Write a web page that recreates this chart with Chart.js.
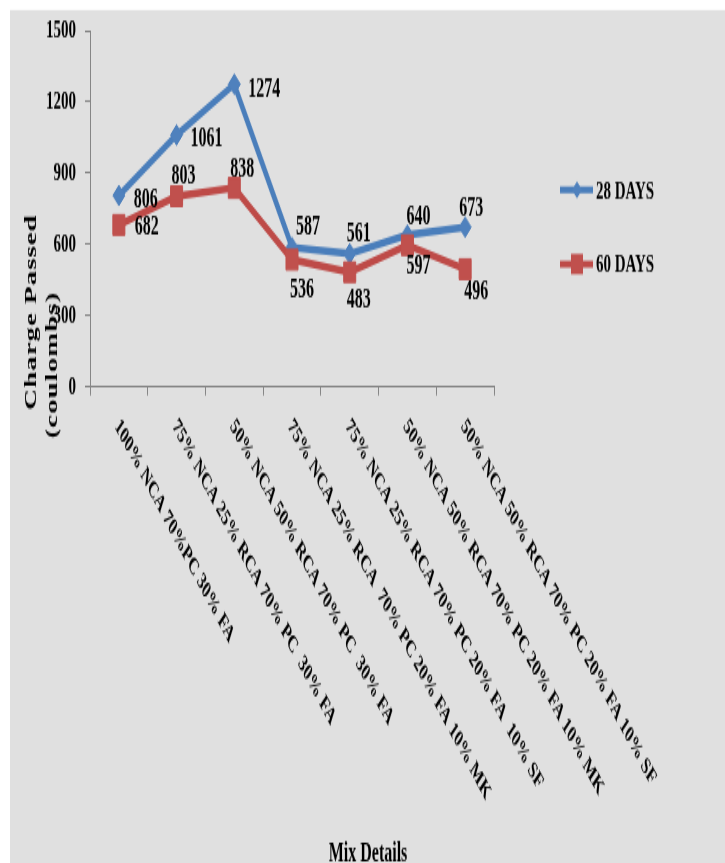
<!DOCTYPE html>
<html>
<head>
<meta charset="utf-8">
<script src="https://cdn.jsdelivr.net/npm/chart.js@4.4.1/dist/chart.umd.min.js"></script>
<style>
body{margin:0;background:#fff;}
</style>
</head>
<body>
<canvas id="chart" width="725" height="508" style="display:block;width:725px;height:863px;"></canvas>
<script>
const mixLabels = [
    '100% NCA 70%PC 30% FA',
    '75% NCA 25% RCA 70% PC  30% FA',
    '50% NCA 50% RCA 70% PC  30% FA',
    '75% NCA 25% RCA  70% PC 20% FA 10% MK',
    '75% NCA 25% RCA 70% PC 20% FA  10% SF',
    '50% NCA 50% RCA 70% PC 20% FA 10% MK',
    '50% NCA 50% RCA 70% PC 20% FA 10% SF'
];
const days28 = [806, 1061, 1274, 587, 561, 640, 673];
const days60 = [682, 803, 838, 536, 483, 597, 496];
const yTicks = [0, 300, 600, 900, 1200, 1500];
const seriesNames = ['28 DAYS', '60 DAYS'];

// the reference is stretched in height, so draw flat and let css stretch the canvas
const STRETCH = 863 / 508;
const serif = '"Liberation Serif", "Times New Roman", serif';

// where each value label sits next to its point (px in the final picture)
const labelOffsets = [
    [[27, 4], [30, 5], [30, 5], [16, -20], [9, -20], [11, -17], [6, -18]],
    [[28, 2], [7, -20], [8, -18], [10, 31], [9, 28], [11, 21], [11, 23]]
];

function drawMarker(ctx, style, x, y, color) {
    ctx.fillStyle = color;
    ctx.beginPath();
    if (style === 'rectRot') {
        ctx.moveTo(x, y - 5); ctx.lineTo(x + 5, y); ctx.lineTo(x, y + 5); ctx.lineTo(x - 5, y);
    } else {
        ctx.rect(x - 6, y - 6, 12, 12);
    }
    ctx.closePath();
    ctx.fill();
}

const extras = {
    id: 'extras',
    beforeDraw(chart) {
        const ctx = chart.ctx;
        ctx.save();
        ctx.fillStyle = '#e0e0e0';
        ctx.fillRect(10, 10 / STRETCH, chart.width - 10, chart.height);
        ctx.restore();
    },
    afterDatasetsDraw(chart) {
        const ctx = chart.ctx;
        ctx.save();
        ctx.font = 'bold 16px ' + serif;
        ctx.fillStyle = '#000';
        ctx.textAlign = 'center';
        ctx.textBaseline = 'middle';
        chart.data.datasets.forEach(function(ds, d) {
            chart.getDatasetMeta(d).data.forEach(function(pt, i) {
                const off = labelOffsets[d][i];
                ctx.fillText(ds.data[i], pt.x + off[0], pt.y + off[1] / STRETCH);
            });
        });
        ctx.restore();
    },
    afterDraw(chart) {
        const ctx = chart.ctx;
        const xScale = chart.scales.x;
        const area = chart.chartArea;
        ctx.save();
        ctx.fillStyle = '#000';

        // slanted category labels
        ctx.font = 'bold 14px ' + serif;
        ctx.textAlign = 'left';
        ctx.textBaseline = 'middle';
        mixLabels.forEach(function(label, i) {
            ctx.save();
            ctx.translate(xScale.getPixelForValue(i) - 2, area.bottom + 21);
            ctx.rotate(48 * Math.PI / 180);
            ctx.fillText(label, 0, 0);
            ctx.restore();
        });

        // axis titles
        ctx.font = 'bold 16px ' + serif;
        ctx.textAlign = 'center';
        ctx.fillText('Mix Details', 368, 854 / STRETCH);

        ctx.font = 'bold 17px ' + serif;
        if ('letterSpacing' in ctx) ctx.letterSpacing = '0.6px';
        ctx.save();
        ctx.translate(32, 312 / STRETCH);
        ctx.rotate(-Math.PI / 2);
        ctx.fillText('Charge Passed', 0, 0);
        ctx.restore();
        ctx.save();
        ctx.translate(53, 365 / STRETCH);
        ctx.rotate(-Math.PI / 2);
        ctx.fillText('(coulombs)', 0, 0);
        ctx.restore();
        if ('letterSpacing' in ctx) ctx.letterSpacing = '0px';

        // legend
        ctx.font = 'bold 15px ' + serif;
        ctx.textAlign = 'left';
        chart.data.datasets.forEach(function(ds, d) {
            const y = [190, 264][d] / STRETCH;
            ctx.strokeStyle = ds.borderColor;
            ctx.lineWidth = 4;
            ctx.beginPath();
            ctx.moveTo(560, y);
            ctx.lineTo(593, y);
            ctx.stroke();
            drawMarker(ctx, ds.pointStyle, 577, y, ds.pointBackgroundColor);
            ctx.fillStyle = '#000';
            ctx.fillText(ds.label, 596, y + 1);
        });
        ctx.restore();
    }
};

const ctx = document.getElementById('chart').getContext('2d');
var chart = new Chart(ctx, {
    type: 'line',
    data: {
        labels: mixLabels,
        datasets: [
            {
                label: seriesNames[0],
                data: days28,
                borderColor: '#4A7EBB',
                borderWidth: 4.5,
                pointStyle: 'rectRot',
                pointRadius: 6,
                pointBackgroundColor: '#4F81BD',
                pointBorderColor: '#4F81BD',
                pointBorderWidth: 1,
                tension: 0,
                order: 1
            },
            {
                label: seriesNames[1],
                data: days60,
                borderColor: '#BE4B48',
                borderWidth: 4.5,
                pointStyle: 'rect',
                pointRadius: 8.5,
                pointBackgroundColor: '#C0504D',
                pointBorderColor: '#C0504D',
                pointBorderWidth: 1,
                tension: 0,
                order: 0
            }
        ]
    },
    plugins: [extras],
    options: {
        responsive: false,
        animation: false,
        devicePixelRatio: 1,
        layout: {
            padding: {left: 10, right: 231, top: 30 / STRETCH, bottom: 0}
        },
        plugins: {
            legend: {display: false},
            tooltip: {enabled: false}
        },
        scales: {
            x: {
                offset: true,
                grid: {
                    offset: true,
                    drawOnChartArea: false,
                    tickLength: 5,
                    color: '#868686'
                },
                border: {color: '#868686', width: 1},
                ticks: {display: false},
                afterFit: function(scale) {
                    scale.height = 508 - 387 / STRETCH;
                }
            },
            y: {
                min: yTicks[0],
                max: yTicks[yTicks.length - 1],
                afterBuildTicks: function(scale) {
                    scale.ticks = yTicks.map(function(v) { return {value: v}; });
                },
                grid: {
                    drawOnChartArea: false,
                    tickLength: 5,
                    color: '#868686'
                },
                border: {color: '#868686', width: 1},
                ticks: {
                    color: '#000',
                    padding: 9,
                    font: {family: serif, size: 15, weight: 'bold'},
                    callback: function(value) {
                        return String(value);
                    }
                },
                afterFit: function(scale) {
                    scale.width = 80;
                }
            }
        }
    }
});
</script>
</body>
</html>
